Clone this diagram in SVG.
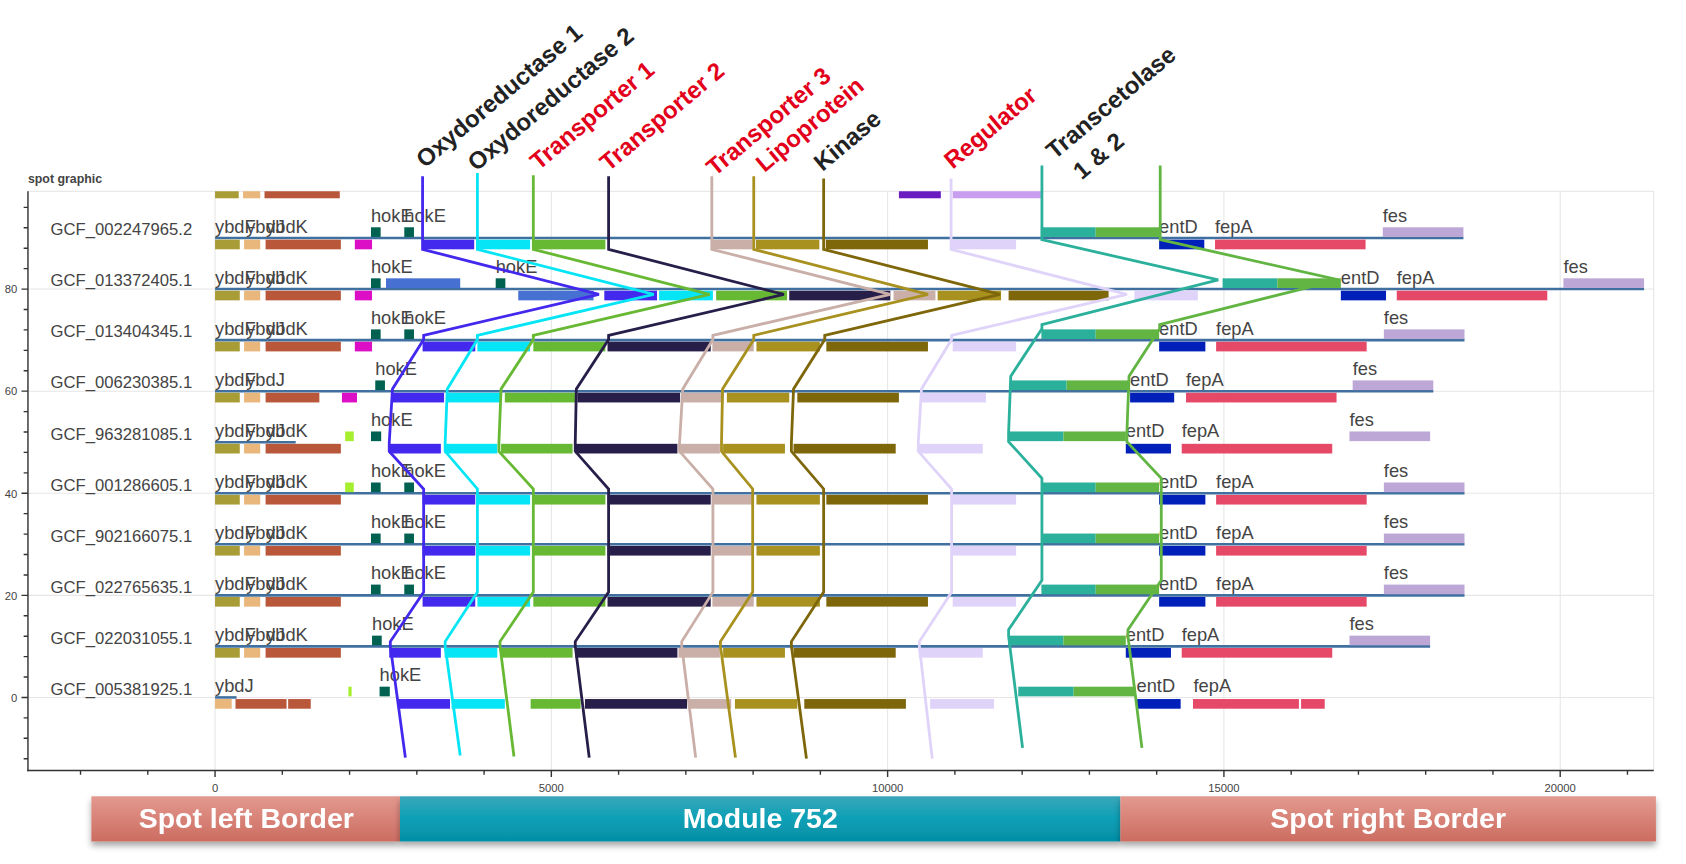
<svg xmlns="http://www.w3.org/2000/svg" width="1686" height="864" viewBox="0 0 1686 864">
<defs>
<style>
text{font-family:"Liberation Sans",Arial,sans-serif}
.gl{stroke:#40709f;stroke-width:2.4}
.ol{fill:#a89c36}.tn{fill:#e9b67c}.br{fill:#b9573b}.mg{fill:#dd0fc6}.hk{fill:#006151}.rb{fill:#4670d2}.lg{fill:#a6ef2f}
.g1{fill:#4328ee}.g2{fill:#06e5f5}.g3{fill:#67b934}.g4{fill:#281e4a}.g5{fill:#c9afa7}.g6{fill:#a8911f}.g7{fill:#7e660a}.g8{fill:#e0d3fa}.g9{fill:#2bb09b}.g10{fill:#62b542}
.ed{fill:#0020b9}.fp{fill:#e64868}.fs{fill:#bca7d6}.pu{fill:#6b1cc1}.lp{fill:#c99ef0}
.lb{font-size:17px;fill:#444}
.gcf{font-size:15.5px;fill:#444}
.tk{font-size:10.5px;fill:#444}
.c{fill:none;stroke-width:2.6}
.c1{stroke:#4328ee}.c2{stroke:#06e5f5}.c3{stroke:#67b934}.c4{stroke:#281e4a}.c5{stroke:#c9afa7}.c6{stroke:#a8911f}.c7{stroke:#7e660a}.c8{stroke:#e0d3fa}.c9{stroke:#2bb09b}.c10{stroke:#62b542}
.tl{font-size:22.3px;font-weight:bold}
.blk{fill:#222}.red{fill:#e2001a}
.bn{font-size:26.5px;font-weight:bold;fill:#fff}
.grid{stroke:#e6e6e6;stroke-width:1}
.ax{stroke:#333;stroke-width:1.3}
</style>
<clipPath id="pc"><rect x="26" y="178" width="1512" height="539"/></clipPath>
<linearGradient id="sal" x1="0" y1="0" x2="0" y2="1"><stop offset="0" stop-color="#e3998f"/><stop offset="1" stop-color="#cc6c60"/></linearGradient>
<linearGradient id="tea" x1="0" y1="0" x2="0" y2="1"><stop offset="0" stop-color="#3ba6ba"/><stop offset="0.5" stop-color="#0aa0b6"/><stop offset="1" stop-color="#058ea5"/></linearGradient>
<filter id="sh" x="-5%" y="-30%" width="110%" height="170%"><feDropShadow dx="0" dy="4" stdDeviation="3" flood-color="#000" flood-opacity="0.35"/></filter>
</defs>
<rect width="1686" height="864" fill="#fff"/>
<g transform="scale(1.07526,1.07463)">
<g id="plot-frame">
<text x="26" y="170" font-size="11.5" font-weight="bold" fill="#444">spot graphic</text>
<rect x="26" y="178" width="1512" height="539" fill="none" stroke="#e5e5e5"/>
<g class="grid">
<line x1="200" y1="178" x2="200" y2="717"/><line x1="512.75" y1="178" x2="512.75" y2="717"/><line x1="825.5" y1="178" x2="825.5" y2="717"/><line x1="1138.25" y1="178" x2="1138.25" y2="717"/><line x1="1451" y1="178" x2="1451" y2="717"/>
<line x1="26" y1="649" x2="1538" y2="649"/><line x1="26" y1="554" x2="1538" y2="554"/><line x1="26" y1="459" x2="1538" y2="459"/><line x1="26" y1="364" x2="1538" y2="364"/><line x1="26" y1="269" x2="1538" y2="269"/>
</g>
<g class="ax">
<line x1="26" y1="178" x2="26" y2="717.6"/><line x1="25.4" y1="717" x2="1538" y2="717"/>
<path d="M20,649H26M20,554H26M20,459H26M20,364H26M20,269H26"/>
<path d="M22,706H26M22,687H26M22,668H26M22,630H26M22,611H26M22,592H26M22,573H26M22,535H26M22,516H26M22,497H26M22,478H26M22,440H26M22,421H26M22,402H26M22,383H26M22,345H26M22,326H26M22,307H26M22,288H26M22,250H26M22,231H26M22,212H26M22,193H26"/>
<path d="M200,717V723M512.75,717V723M825.5,717V723M1138.25,717V723M1451,717V723"/>
<path d="M74.9,717V721M137.45,717V721M262.55,717V721M325.1,717V721M387.65,717V721M450.2,717V721M575.3,717V721M637.85,717V721M700.4,717V721M762.95,717V721M888.05,717V721M950.6,717V721M1013.15,717V721M1075.7,717V721M1200.8,717V721M1263.35,717V721M1325.9,717V721M1388.45,717V721M1513.55,717V721"/>
</g>
<g class="tk">
<text x="200" y="737" text-anchor="middle">0</text><text x="512.75" y="737" text-anchor="middle">5000</text><text x="825.5" y="737" text-anchor="middle">10000</text><text x="1138.25" y="737" text-anchor="middle">15000</text><text x="1451" y="737" text-anchor="middle">20000</text>
<text x="16" y="653" text-anchor="end">0</text><text x="16" y="558" text-anchor="end">20</text><text x="16" y="463" text-anchor="end">40</text><text x="16" y="368" text-anchor="end">60</text><text x="16" y="273" text-anchor="end">80</text>
</g>
</g>

<g id="row-100" clip-path="url(#pc)">
<g transform="translate(0,174)">
<rect class="ol" x="200" y="1.5" width="22" height="9"/><rect class="tn" x="226" y="1.5" width="16" height="9"/><rect class="br" x="246" y="1.5" width="70" height="9"/><rect class="pu" x="836" y="1.5" width="39" height="9"/><rect class="lp" x="886" y="1.5" width="82" height="9"/>
</g>
</g>

<g id="GCF_002247965.2" transform="translate(0,221.5)">
<text class="gcf" x="47" y="-2.5">GCF_002247965.2</text>
<line class="gl" x1="200" y1="0" x2="1361" y2="0"/>
<rect class="ol" x="200" y="1.5" width="23" height="9"/><rect class="tn" x="227" y="1.5" width="15" height="9"/><rect class="br" x="247" y="1.5" width="70" height="9"/><rect class="mg" x="330" y="1.5" width="16" height="9"/>
<rect class="g1" x="393" y="1.5" width="48" height="9"/><rect class="g2" x="443" y="1.5" width="50" height="9"/><rect class="g3" x="496" y="1.5" width="67" height="9"/><rect class="g5" x="662" y="1.5" width="38" height="9"/><rect class="g6" x="703" y="1.5" width="59" height="9"/><rect class="g7" x="768" y="1.5" width="95" height="9"/><rect class="g8" x="885" y="1.5" width="60" height="9"/><rect class="ed" x="1078" y="1.5" width="42" height="9"/><rect class="fp" x="1130" y="1.5" width="140" height="9"/>
<rect class="hk" x="345" y="-10" width="9" height="9"/><rect class="hk" x="376" y="-10" width="9" height="9"/><rect class="g9" x="968" y="-10" width="51" height="9"/><rect class="g10" x="1019" y="-10" width="59" height="9"/><rect class="fs" x="1286" y="-10" width="75" height="9"/>
<text class="lb" x="200" y="-5">ybdF</text><text class="lb" x="229" y="-5">ybdJ</text><text class="lb" x="247.5" y="-5">ybdK</text><text class="lb" x="345" y="-15">hokE</text><text class="lb" x="376" y="-15">hokE</text><text class="lb" x="1078" y="-5">entD</text><text class="lb" x="1130" y="-5">fepA</text><text class="lb" x="1286" y="-15">fes</text>
</g>

<g id="GCF_013372405.1" transform="translate(0,269)">
<text class="gcf" x="47" y="-2.5">GCF_013372405.1</text>
<line class="gl" x1="200" y1="0" x2="1529" y2="0"/>
<rect class="ol" x="200" y="1.5" width="23" height="9"/><rect class="tn" x="227" y="1.5" width="15" height="9"/><rect class="br" x="247" y="1.5" width="70" height="9"/><rect class="mg" x="330" y="1.5" width="16" height="9"/>
<rect class="rb" x="482" y="1.5" width="70" height="9"/><rect class="g1" x="562" y="1.5" width="49" height="9"/><rect class="g2" x="613" y="1.5" width="50" height="9"/><rect class="g3" x="666" y="1.5" width="66" height="9"/><rect class="g4" x="734" y="1.5" width="94" height="9"/><rect class="g5" x="831" y="1.5" width="39" height="9"/><rect class="g6" x="872" y="1.5" width="59" height="9"/><rect class="g7" x="938" y="1.5" width="93" height="9"/><rect class="g8" x="1055" y="1.5" width="59" height="9"/><rect class="ed" x="1247" y="1.5" width="42" height="9"/><rect class="fp" x="1299" y="1.5" width="140" height="9"/>
<rect class="hk" x="345" y="-10" width="9" height="9"/><rect class="rb" x="359" y="-10" width="69" height="9"/><rect class="hk" x="461" y="-10" width="9" height="9"/><rect class="g9" x="1137" y="-10" width="51" height="9"/><rect class="g10" x="1188" y="-10" width="59" height="9"/><rect class="fs" x="1454" y="-10" width="75" height="9"/>
<text class="lb" x="200" y="-5">ybdF</text><text class="lb" x="229" y="-5">ybdJ</text><text class="lb" x="247.5" y="-5">ybdK</text><text class="lb" x="345" y="-15">hokE</text><text class="lb" x="461" y="-15">hokE</text><text class="lb" x="1247" y="-5">entD</text><text class="lb" x="1299" y="-5">fepA</text><text class="lb" x="1454" y="-15">fes</text>
</g>

<g id="GCF_013404345.1" transform="translate(0,316.5)">
<text class="gcf" x="47" y="-2.5">GCF_013404345.1</text>
<line class="gl" x1="200" y1="0" x2="1362" y2="0"/>
<rect class="ol" x="200" y="1.5" width="23" height="9"/><rect class="tn" x="227" y="1.5" width="15" height="9"/><rect class="br" x="247" y="1.5" width="70" height="9"/><rect class="mg" x="330" y="1.5" width="16" height="9"/>
<rect class="g1" x="393" y="1.5" width="49" height="9"/><rect class="g2" x="444" y="1.5" width="49" height="9"/><rect class="g3" x="496" y="1.5" width="67" height="9"/><rect class="g4" x="565" y="1.5" width="96" height="9"/><rect class="g5" x="662.5" y="1.5" width="38.5" height="9"/><rect class="g6" x="703.5" y="1.5" width="59" height="9"/><rect class="g7" x="768.5" y="1.5" width="94.5" height="9"/><rect class="g8" x="886" y="1.5" width="59" height="9"/><rect class="ed" x="1078" y="1.5" width="43" height="9"/><rect class="fp" x="1131" y="1.5" width="140" height="9"/>
<rect class="hk" x="345" y="-10" width="9" height="9"/><rect class="hk" x="376" y="-10" width="9" height="9"/><rect class="g9" x="968.5" y="-10" width="50.5" height="9"/><rect class="g10" x="1019" y="-10" width="59" height="9"/><rect class="fs" x="1287" y="-10" width="75" height="9"/>
<text class="lb" x="200" y="-5">ybdF</text><text class="lb" x="229" y="-5">ybdJ</text><text class="lb" x="247.5" y="-5">ybdK</text><text class="lb" x="345" y="-15">hokE</text><text class="lb" x="376" y="-15">hokE</text><text class="lb" x="1078" y="-5">entD</text><text class="lb" x="1131" y="-5">fepA</text><text class="lb" x="1287" y="-15">fes</text>
</g>

<g id="GCF_006230385.1" transform="translate(0,364)">
<text class="gcf" x="47" y="-2.5">GCF_006230385.1</text>
<line class="gl" x1="200" y1="0" x2="1333" y2="0"/>
<rect class="ol" x="200" y="1.5" width="23" height="9"/><rect class="tn" x="227" y="1.5" width="15" height="9"/><rect class="br" x="247" y="1.5" width="50" height="9"/><rect class="mg" x="318" y="1.5" width="14" height="9"/>
<rect class="g1" x="364" y="1.5" width="49" height="9"/><rect class="g2" x="415" y="1.5" width="51" height="9"/><rect class="g3" x="469.5" y="1.5" width="65.5" height="9"/><rect class="g4" x="537" y="1.5" width="95.5" height="9"/><rect class="g5" x="633.5" y="1.5" width="39.5" height="9"/><rect class="g6" x="676" y="1.5" width="58" height="9"/><rect class="g7" x="741.5" y="1.5" width="94.5" height="9"/><rect class="g8" x="857.5" y="1.5" width="59.5" height="9"/><rect class="ed" x="1051" y="1.5" width="41" height="9"/><rect class="fp" x="1103" y="1.5" width="140" height="9"/>
<rect class="hk" x="349" y="-10" width="9" height="9"/><rect class="g9" x="939" y="-10" width="53" height="9"/><rect class="g10" x="992" y="-10" width="59" height="9"/><rect class="fs" x="1258" y="-10" width="75" height="9"/>
<text class="lb" x="200" y="-5">ybdF</text><text class="lb" x="229" y="-5">ybdJ</text><text class="lb" x="349" y="-15">hokE</text><text class="lb" x="1051" y="-5">entD</text><text class="lb" x="1103" y="-5">fepA</text><text class="lb" x="1258" y="-15">fes</text>
</g>

<g id="GCF_963281085.1" transform="translate(0,411.5)">
<text class="gcf" x="47" y="-2.5">GCF_963281085.1</text>
<line class="gl" x1="200" y1="0" x2="275" y2="0"/>
<rect class="ol" x="200" y="1.5" width="23" height="9"/><rect class="tn" x="227" y="1.5" width="15" height="9"/><rect class="br" x="247" y="1.5" width="70" height="9"/>
<rect class="g1" x="362" y="1.5" width="48" height="9"/><rect class="g2" x="413.5" y="1.5" width="49" height="9"/><rect class="g3" x="466" y="1.5" width="66.5" height="9"/><rect class="g4" x="535" y="1.5" width="95" height="9"/><rect class="g5" x="631" y="1.5" width="38.5" height="9"/><rect class="g6" x="672.5" y="1.5" width="57.5" height="9"/><rect class="g7" x="738" y="1.5" width="95" height="9"/><rect class="g8" x="854.5" y="1.5" width="59.5" height="9"/><rect class="ed" x="1047" y="1.5" width="42" height="9"/><rect class="fp" x="1099" y="1.5" width="140" height="9"/>
<rect class="lg" x="321" y="-10" width="8" height="9"/><rect class="hk" x="345" y="-10" width="9.5" height="9"/><rect class="g9" x="937.5" y="-10" width="51.5" height="9"/><rect class="g10" x="989" y="-10" width="58" height="9"/><rect class="fs" x="1255" y="-10" width="75" height="9"/>
<text class="lb" x="200" y="-5">ybdF</text><text class="lb" x="229" y="-5">ybdJ</text><text class="lb" x="247.5" y="-5">ybdK</text><text class="lb" x="345" y="-15">hokE</text><text class="lb" x="1047" y="-5">entD</text><text class="lb" x="1099" y="-5">fepA</text><text class="lb" x="1255" y="-15">fes</text>
</g>

<g id="GCF_001286605.1" transform="translate(0,459)">
<text class="gcf" x="47" y="-2.5">GCF_001286605.1</text>
<line class="gl" x1="200" y1="0" x2="1362" y2="0"/>
<rect class="ol" x="200" y="1.5" width="23" height="9"/><rect class="tn" x="227" y="1.5" width="15" height="9"/><rect class="br" x="247" y="1.5" width="70" height="9"/>
<rect class="g1" x="393" y="1.5" width="49" height="9"/><rect class="g2" x="444" y="1.5" width="49" height="9"/><rect class="g3" x="496" y="1.5" width="67" height="9"/><rect class="g4" x="565" y="1.5" width="96" height="9"/><rect class="g5" x="662.5" y="1.5" width="38.5" height="9"/><rect class="g6" x="703.5" y="1.5" width="59" height="9"/><rect class="g7" x="768.5" y="1.5" width="94.5" height="9"/><rect class="g8" x="886" y="1.5" width="59" height="9"/><rect class="ed" x="1078" y="1.5" width="43" height="9"/><rect class="fp" x="1131" y="1.5" width="140" height="9"/>
<rect class="lg" x="321" y="-10" width="8" height="9"/><rect class="hk" x="345" y="-10" width="9" height="9"/><rect class="hk" x="376" y="-10" width="9" height="9"/><rect class="g9" x="968.5" y="-10" width="50.5" height="9"/><rect class="g10" x="1019" y="-10" width="59" height="9"/><rect class="fs" x="1287" y="-10" width="75" height="9"/>
<text class="lb" x="200" y="-5">ybdF</text><text class="lb" x="229" y="-5">ybdJ</text><text class="lb" x="247.5" y="-5">ybdK</text><text class="lb" x="345" y="-15">hokE</text><text class="lb" x="376" y="-15">hokE</text><text class="lb" x="1078" y="-5">entD</text><text class="lb" x="1131" y="-5">fepA</text><text class="lb" x="1287" y="-15">fes</text>
</g>

<g id="GCF_902166075.1" transform="translate(0,506.5)">
<text class="gcf" x="47" y="-2.5">GCF_902166075.1</text>
<line class="gl" x1="200" y1="0" x2="1362" y2="0"/>
<rect class="ol" x="200" y="1.5" width="23" height="9"/><rect class="tn" x="227" y="1.5" width="15" height="9"/><rect class="br" x="247" y="1.5" width="70" height="9"/>
<rect class="g1" x="393" y="1.5" width="49" height="9"/><rect class="g2" x="444" y="1.5" width="49" height="9"/><rect class="g3" x="496" y="1.5" width="67" height="9"/><rect class="g4" x="565" y="1.5" width="96" height="9"/><rect class="g5" x="662.5" y="1.5" width="38.5" height="9"/><rect class="g6" x="703.5" y="1.5" width="59" height="9"/><rect class="g8" x="886" y="1.5" width="59" height="9"/><rect class="ed" x="1078" y="1.5" width="43" height="9"/><rect class="fp" x="1131" y="1.5" width="140" height="9"/>
<rect class="hk" x="345" y="-10" width="9" height="9"/><rect class="hk" x="376" y="-10" width="9" height="9"/><rect class="g9" x="968.5" y="-10" width="50.5" height="9"/><rect class="g10" x="1019" y="-10" width="59" height="9"/><rect class="fs" x="1287" y="-10" width="75" height="9"/>
<text class="lb" x="200" y="-5">ybdF</text><text class="lb" x="229" y="-5">ybdJ</text><text class="lb" x="247.5" y="-5">ybdK</text><text class="lb" x="345" y="-15">hokE</text><text class="lb" x="376" y="-15">hokE</text><text class="lb" x="1078" y="-5">entD</text><text class="lb" x="1131" y="-5">fepA</text><text class="lb" x="1287" y="-15">fes</text>
</g>

<g id="GCF_022765635.1" transform="translate(0,554)">
<text class="gcf" x="47" y="-2.5">GCF_022765635.1</text>
<line class="gl" x1="200" y1="0" x2="1362" y2="0"/>
<rect class="ol" x="200" y="1.5" width="23" height="9"/><rect class="tn" x="227" y="1.5" width="15" height="9"/><rect class="br" x="247" y="1.5" width="70" height="9"/>
<rect class="g1" x="393" y="1.5" width="49" height="9"/><rect class="g2" x="444" y="1.5" width="49" height="9"/><rect class="g3" x="496" y="1.5" width="67" height="9"/><rect class="g4" x="565" y="1.5" width="96" height="9"/><rect class="g5" x="662.5" y="1.5" width="38.5" height="9"/><rect class="g6" x="703.5" y="1.5" width="59" height="9"/><rect class="g7" x="768.5" y="1.5" width="94.5" height="9"/><rect class="g8" x="886" y="1.5" width="59" height="9"/><rect class="ed" x="1078" y="1.5" width="43" height="9"/><rect class="fp" x="1131" y="1.5" width="140" height="9"/>
<rect class="hk" x="345" y="-10" width="9" height="9"/><rect class="hk" x="376" y="-10" width="9" height="9"/><rect class="g9" x="968.5" y="-10" width="50.5" height="9"/><rect class="g10" x="1019" y="-10" width="59" height="9"/><rect class="fs" x="1287" y="-10" width="75" height="9"/>
<text class="lb" x="200" y="-5">ybdF</text><text class="lb" x="229" y="-5">ybdJ</text><text class="lb" x="247.5" y="-5">ybdK</text><text class="lb" x="345" y="-15">hokE</text><text class="lb" x="376" y="-15">hokE</text><text class="lb" x="1078" y="-5">entD</text><text class="lb" x="1131" y="-5">fepA</text><text class="lb" x="1287" y="-15">fes</text>
</g>

<g id="GCF_022031055.1" transform="translate(0,601.5)">
<text class="gcf" x="47" y="-2.5">GCF_022031055.1</text>
<line class="gl" x1="200" y1="0" x2="1330" y2="0"/>
<rect class="ol" x="200" y="1.5" width="23" height="9"/><rect class="tn" x="227" y="1.5" width="15" height="9"/><rect class="br" x="247" y="1.5" width="70" height="9"/>
<rect class="g1" x="362" y="1.5" width="48" height="9"/><rect class="g2" x="413.5" y="1.5" width="49" height="9"/><rect class="g3" x="466" y="1.5" width="66.5" height="9"/><rect class="g4" x="535" y="1.5" width="95" height="9"/><rect class="g5" x="631" y="1.5" width="38.5" height="9"/><rect class="g6" x="672.5" y="1.5" width="57.5" height="9"/><rect class="g7" x="738" y="1.5" width="95" height="9"/><rect class="g8" x="854.5" y="1.5" width="59.5" height="9"/><rect class="ed" x="1047" y="1.5" width="42" height="9"/><rect class="fp" x="1099" y="1.5" width="140" height="9"/>
<rect class="hk" x="346" y="-10" width="9" height="9"/><rect class="g9" x="937.5" y="-10" width="51.5" height="9"/><rect class="g10" x="989" y="-10" width="58" height="9"/><rect class="fs" x="1255" y="-10" width="75" height="9"/>
<text class="lb" x="200" y="-5">ybdF</text><text class="lb" x="229" y="-5">ybdJ</text><text class="lb" x="247.5" y="-5">ybdK</text><text class="lb" x="346" y="-15">hokE</text><text class="lb" x="1047" y="-5">entD</text><text class="lb" x="1099" y="-5">fepA</text><text class="lb" x="1255" y="-15">fes</text>
</g>

<g id="GCF_005381925.1" transform="translate(0,649)">
<text class="gcf" x="47" y="-2.5">GCF_005381925.1</text>
<line class="gl" x1="200" y1="0" x2="220" y2="0"/>
<rect class="tn" x="200" y="1.5" width="15.5" height="9"/><rect class="br" x="219" y="1.5" width="47.5" height="9"/><rect class="br" x="268" y="1.5" width="21" height="9"/>
<rect class="g1" x="370" y="1.5" width="48.5" height="9"/><rect class="g2" x="420" y="1.5" width="49.5" height="9"/><rect class="g3" x="493.5" y="1.5" width="46.5" height="9"/><rect class="g4" x="544" y="1.5" width="95" height="9"/><rect class="g5" x="640" y="1.5" width="40" height="9"/><rect class="g6" x="683.5" y="1.5" width="58" height="9"/><rect class="g7" x="748" y="1.5" width="94.5" height="9"/><rect class="g8" x="865" y="1.5" width="59.5" height="9"/><rect class="ed" x="1057.5" y="1.5" width="40.5" height="9"/><rect class="fp" x="1109.5" y="1.5" width="98.5" height="9"/><rect class="fp" x="1210" y="1.5" width="22" height="9"/>
<rect class="lg" x="324" y="-10" width="3" height="9"/><rect class="hk" x="353" y="-10" width="9.5" height="9"/><rect class="g9" x="947" y="-10" width="51.5" height="9"/><rect class="g10" x="998.5" y="-10" width="57.5" height="9"/>
<text class="lb" x="200" y="-5">ybdJ</text><text class="lb" x="353" y="-15">hokE</text><text class="lb" x="1057" y="-5">entD</text><text class="lb" x="1110" y="-5">fepA</text>
</g>

<g id="connectors" class="c">
<path class="c1" d="M393,164V232L557,274L394,312V316L365,362L362,412V420L394,455V551L363,597V601L377,705"/>
<path class="c2" d="M444,161V232L608,274L444,312V316L416,362L414,412V420L444,455V551L414,597V601L428,703"/>
<path class="c3" d="M496,163V232L660,274L496,312V316L466,362L464,412V420L496,455V551L465,597V601L478,704"/>
<path class="c4" d="M566,164V232L729,274L566,312V316L536,362L535,412V420L566,455V551L535,597V601L548,705"/>
<path class="c5" d="M662,164V232L828,274L663,312V316L635,362L632,412V420L663,455V551L634,597V601L647,705"/>
<path class="c6" d="M701,164V232L863,274L701,312V316L672,362L671,412V420L700,455V551L670,597V601L684,705"/>
<path class="c7" d="M766,166V232L930,274L767,312V316L738,362L736,412V420L766,455V551L736,597V601L750,706"/>
<path class="c8" d="M884.5,166V232L1048,274L885,312V316L857,362L854,412V420L885,455V551L855,597V601L867,706"/>
<path class="c9" d="M969,154V223L1133,260.5L969,302V306L940,350L938,403V411L969,445V540L938,586V592L951,696"/>
<path class="c10" d="M1079,154V223L1245,260.5L1078.5,302V306L1050,350L1048,403V411L1080,445V540L1049,586V592L1062,696"/>
</g>

<g id="module-labels" class="tl">
<text class="blk" transform="translate(395,157) rotate(-40)">Oxydoreductase 1</text>
<text class="blk" transform="translate(443,160) rotate(-40)">Oxydoreductase 2</text>
<text class="red" transform="translate(501,159) rotate(-40)">Transporter 1</text>
<text class="red" transform="translate(566,160) rotate(-40)">Transporter 2</text>
<text class="red" transform="translate(665,164.5) rotate(-40)">Transporter 3</text>
<text class="red" transform="translate(711,161) rotate(-40)">Lipoprotein</text>
<text class="blk" transform="translate(765,160) rotate(-40)">Kinase</text>
<text class="red" transform="translate(886,158) rotate(-40)">Regulator</text>
<text class="blk" transform="translate(981,149) rotate(-40)">Transcetolase</text>
<text class="blk" transform="translate(1006,168) rotate(-40)">1 &amp; 2</text>
</g>

<g id="banners">
<g id="spot-left-border" filter="url(#sh)"><rect x="85" y="741" width="287" height="42" fill="url(#sal)"/><text class="bn" x="229" y="770.5" text-anchor="middle">Spot left Border</text></g>
<g id="module-752" filter="url(#sh)"><rect x="372" y="741" width="670" height="42" fill="url(#tea)"/><text class="bn" x="707" y="770.5" text-anchor="middle">Module 752</text></g>
<g id="spot-right-border" filter="url(#sh)"><rect x="1042" y="741" width="498" height="42" fill="url(#sal)"/><text class="bn" x="1291" y="770.5" text-anchor="middle">Spot right Border</text></g>
</g>
</g>
</svg>
